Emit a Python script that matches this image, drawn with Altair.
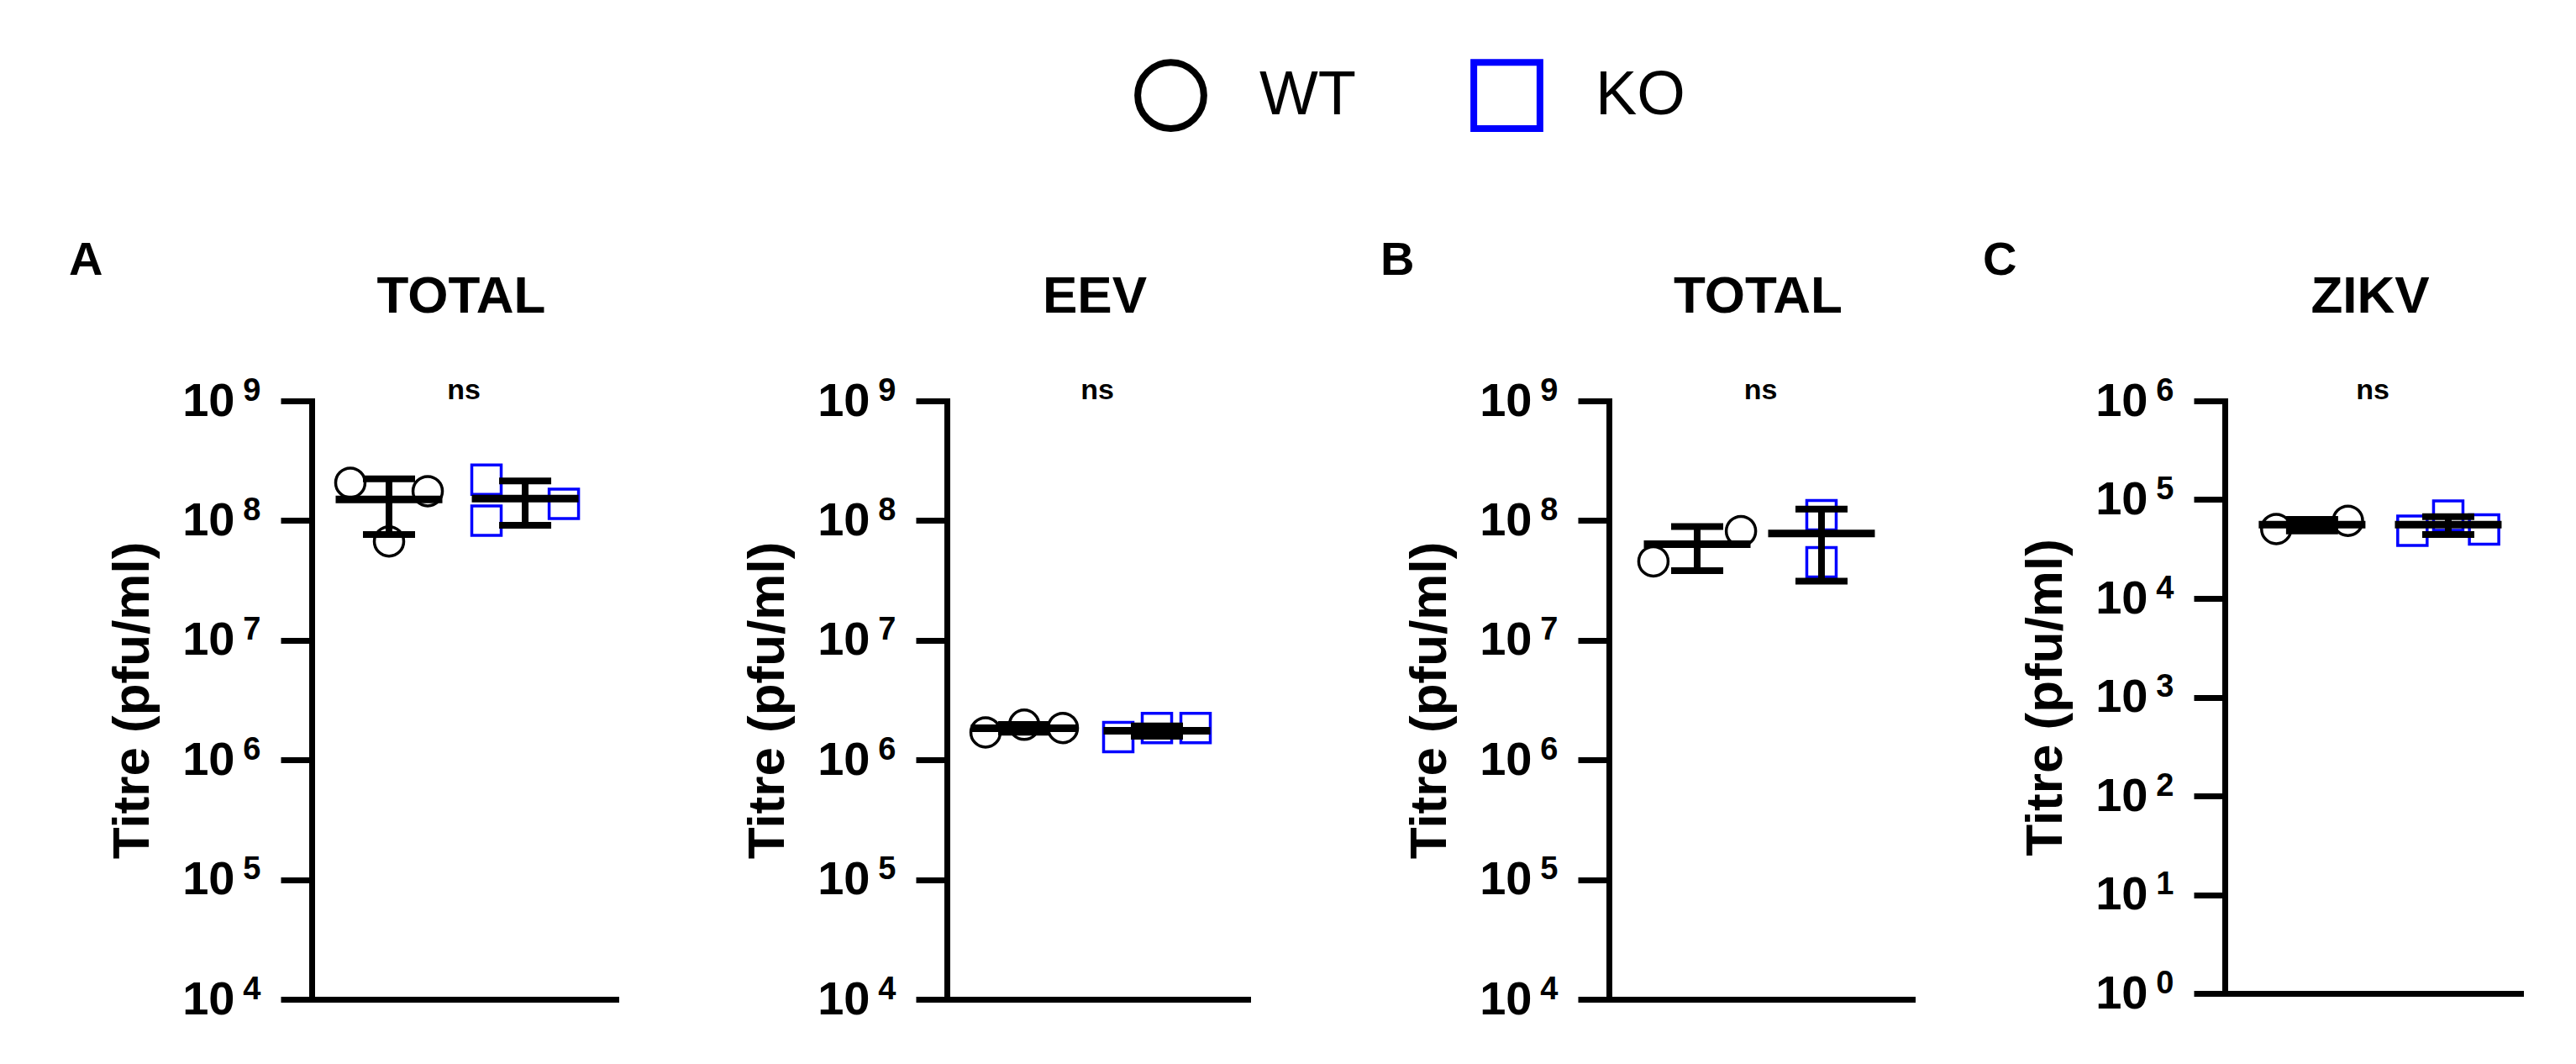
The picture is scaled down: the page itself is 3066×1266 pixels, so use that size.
import altair as alt
import pandas as pd

# ---------------- data ----------------
groups = ["WT", "KO"]
panel_titles = ["TOTAL", "EEV", "TOTAL", "ZIKV"]
panel_letters = ["A", "", "B", "C"]
significance = ["ns", "ns", "ns", "ns"]

wt_titre = [[2.07e8, 6.7e7, 1.76e8],
            [1.70e6, 1.97e6, 1.85e6],
            [4.56e7, 8.16e7],
            [5.04e4, 6.10e4]]
ko_titre = [[2.20e8, 1.00e8, 1.38e8],
            [1.55e6, 1.85e6, 1.85e6],
            [1.11e8, 4.49e7],
            [4.84e4, 6.89e4, 4.99e4]]
# horizontal spread slot of each replicate inside its group (scatter dot plot)
wt_slot = [[1, 2, 3], [1, 2, 3], [1, 3], [1, 3]]
ko_slot = [[1, 1, 3], [1, 2, 3], [2, 2], [1, 2, 3]]

y_min_exp = [4, 4, 4, 0]
y_max_exp = [9, 9, 9, 6]

# ---------------- layout / style ----------------
plot_w = [362, 358, 361, 352]          # drawn axis length
cell_w = [384, 416, 361, 352]          # layout width (extra room = wider gap)
heights = [712, 712, 712, 705]
pad_outer = [0.117, 0.133, 0.22, 0.086]
band_align = [0.29, 0.31, 0.477, 0.82]
off_pad = [0.76, 0.717, 0.42, 0.9]
letter_x = [-289, 0, -272, -288]

FONT = "Liberation Sans"

legend = alt.Legend(
    orient="none", legendX=979, legendY=-407, direction="horizontal", title=None,
    symbolSize=6200, symbolStrokeWidth=8, symbolOpacity=1,
    labelFontSize=74, labelFont=FONT, labelFontWeight="normal", labelColor="black",
    labelOffset=62, columnPadding=123, padding=0,
)


def panel(i):
    rows = []
    for v, s in zip(wt_titre[i], wt_slot[i]):
        rows.append({"genotype": "WT", "titre": v, "slot": s})
    for v, s in zip(ko_titre[i], ko_slot[i]):
        rows.append({"genotype": "KO", "titre": v, "slot": s})
    df = pd.DataFrame(rows)

    ticks = [10.0 ** e for e in range(y_min_exp[i], y_max_exp[i] + 1)]
    yscale = alt.Scale(type="log", domain=[ticks[0], ticks[-1]])

    xenc = alt.X(
        "genotype:N",
        scale=alt.Scale(domain=groups, range=[0, plot_w[i]], paddingInner=0,
                        paddingOuter=pad_outer[i], align=band_align[i]),
        axis=alt.Axis(labels=False, ticks=False, title=None, grid=False,
                      domainWidth=7, domainColor="black", domainCap="square"),
    )

    axis_base = alt.Axis(
        orient="left", values=ticks, grid=False, labelExpr="'10'",
        labelFont=FONT, labelFontSize=56, labelFontWeight="bold", labelColor="black",
        labelPadding=55, labelBaseline="middle", labelFlush=False, labelOverlap=False,
        tickSize=37, tickWidth=7, tickColor="black",
        domainWidth=7, domainColor="black", domainCap="square",
        title="Titre (pfu/ml)", titleFont=FONT, titleFontSize=62, titleFontWeight="bold",
        titleColor="black", titlePadding=27,
    )
    axis_exp = alt.Axis(
        orient="left", values=ticks, grid=False, domain=False, ticks=False, tickSize=0,
        labelExpr="'' + round(log(datum.value) / LN10)",
        labelFont=FONT, labelFontSize=38, labelFontWeight="bold", labelColor="black",
        labelPadding=61, labelBaseline="middle", labelOffset=-12,
        labelFlush=False, labelOverlap=False, title=None,
    )

    base = alt.Chart(df)
    pts = base.mark_point(filled=False, size=1225, strokeWidth=3.5, opacity=1).encode(
        x=xenc,
        xOffset=alt.XOffset("slot:O", scale=alt.Scale(domain=[1, 2, 3], padding=off_pad[i])),
        y=alt.Y("titre:Q", scale=yscale, axis=axis_base),
        shape=alt.Shape("genotype:N", scale=alt.Scale(domain=groups, range=["circle", "square"]),
                        legend=legend),
        color=alt.Color("genotype:N", scale=alt.Scale(domain=groups, range=["black", "#0000ff"]),
                        legend=legend),
    )
    err = base.mark_errorbar(extent="stdev", ticks=True, size=62, thickness=8,
                             color="black", opacity=1).encode(
        x=xenc,
        y=alt.Y("titre:Q", scale=yscale, axis=None),
    )
    mean = base.mark_tick(size=127, thickness=9, color="black", opacity=1).encode(
        x=xenc,
        y=alt.Y("mean(titre):Q", scale=yscale, axis=axis_exp),
    )

    ann = alt.Chart(pd.DataFrame({"title": [panel_titles[i]], "sig": [significance[i]],
                                  "letter": [panel_letters[i]]}))
    title_txt = ann.mark_text(align="center", baseline="alphabetic", font=FONT, fontSize=62,
                              fontWeight="bold", color="black").encode(
        text="title:N", x=alt.value(plot_w[i] / 2 - 3), y=alt.value(-105))
    sig_txt = ann.mark_text(align="center", baseline="alphabetic", font=FONT, fontSize=34,
                            fontWeight="bold", color="black").encode(
        text="sig:N", x=alt.value(plot_w[i] / 2), y=alt.value(-2))
    layers = [pts, err, mean, title_txt, sig_txt]
    if panel_letters[i]:
        let = ann.mark_text(align="left", baseline="alphabetic", font=FONT, fontSize=56,
                            fontWeight="bold", color="black").encode(
            text="letter:N", x=alt.value(letter_x[i]), y=alt.value(-150))
        layers.append(let)

    return alt.layer(*layers).resolve_axis(y="independent").properties(
        width=cell_w[i], height=heights[i])


p = [panel(i) for i in range(4)]
chart = alt.hconcat(*p, spacing=372, bounds="flush").resolve_scale(
    xOffset="independent", color="shared", shape="shared"
).properties(
    padding={"left": 74, "top": 62, "right": 5, "bottom": 5}
).configure(
    font=FONT, background="white",
    view=alt.ViewConfig(strokeWidth=0, stroke="transparent"),
)

chart.save("out.html", embed_options={"renderer": "svg", "actions": False})
